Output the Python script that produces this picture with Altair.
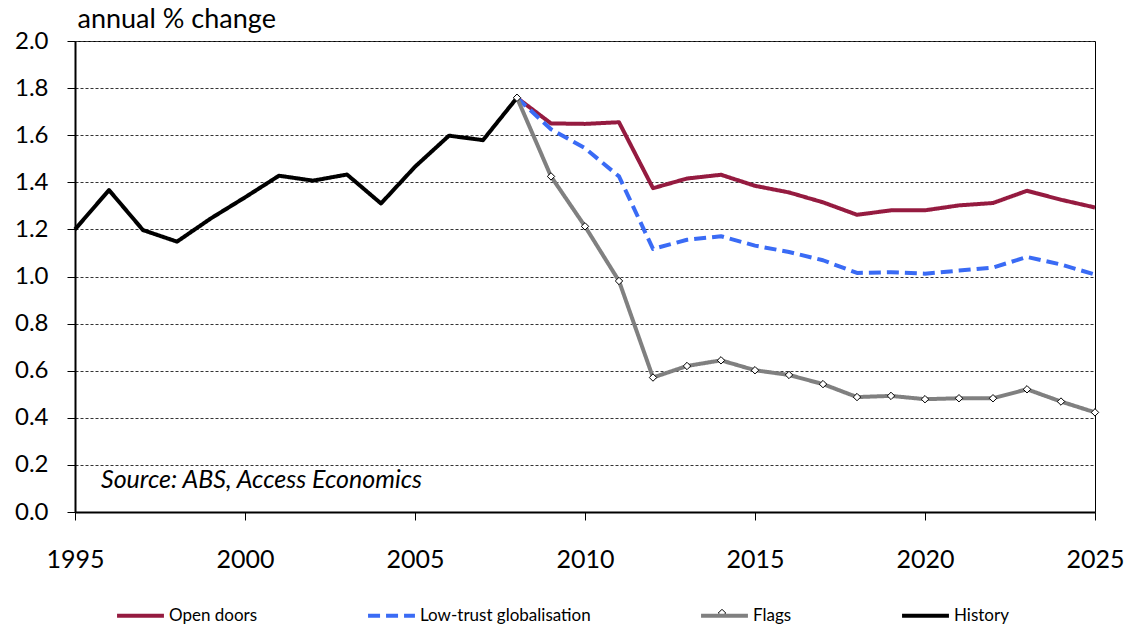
import altair as alt
import pandas as pd

# Annual population growth, % change
history_years = list(range(1995, 2009))
history = [1.20, 1.367, 1.197, 1.148, 1.247, 1.336, 1.428, 1.407, 1.433, 1.310,
           1.466, 1.598, 1.579, 1.759]

scenario_years = list(range(2008, 2026))
open_doors = [1.759, 1.650, 1.648, 1.655, 1.375, 1.416, 1.432, 1.385, 1.357, 1.315,
              1.262, 1.281, 1.281, 1.302, 1.312, 1.364, 1.326, 1.293]
low_trust = [1.759, 1.625, 1.545, 1.425, 1.117, 1.156, 1.171, 1.131, 1.104, 1.069,
             1.015, 1.018, 1.012, 1.025, 1.038, 1.083, 1.051, 1.008]
flags = [1.759, 1.425, 1.213, 0.981, 0.571, 0.620, 0.644, 0.602, 0.582, 0.543,
         0.488, 0.493, 0.479, 0.483, 0.483, 0.521, 0.469, 0.423]

series_names = ["Open doors", "Low-trust globalisation", "Flags", "History"]
series_colors = ["#951B40", "#3A6BF5", "#808080", "#000000"]
series_dash = [[1, 0], [12, 6], [1, 0], [1, 0]]
series_width = [4, 4, 3, 3]

rows = []
for name, yrs, vals in [
    ("History", history_years, history),
    ("Open doors", scenario_years, open_doors),
    ("Low-trust globalisation", scenario_years, low_trust),
    ("Flags", scenario_years, flags),
]:
    for y, v in zip(yrs, vals):
        rows.append({"series": name, "year": y, "value": v})
df = pd.DataFrame(rows)

FONT = "Lato"

x_enc = alt.X(
    "year:Q",
    scale=alt.Scale(domain=[1995, 2025], nice=False, zero=False),
    axis=alt.Axis(
        values=list(range(1995, 2026, 5)), format="d", title=None, grid=False,
        labelFontSize=25, labelPadding=27, tickSize=8, tickColor="black",
        domainColor="black", domainWidth=2, labelColor="black", labelFont=FONT,
        labelFlush=False,
    ),
)
y_enc = alt.Y(
    "value:Q",
    scale=alt.Scale(domain=[0, 2], nice=False),
    axis=alt.Axis(
        values=[round(i * 0.2, 1) for i in range(11)], format=".1f",
        title="annual % change", titleAngle=0, titleAlign="left", titleX=2,
        titleY=-14, titleBaseline="alphabetic", titleFontSize=27,
        titleFontWeight="normal", titleFont=FONT, titleColor="black",
        labelFontSize=24, labelPadding=19, tickSize=8, tickColor="black",
        domainColor="black", domainWidth=2, labelColor="black", labelFont=FONT,
        grid=True, gridDash=[3, 2], gridColor="#333333", gridWidth=1,
    ),
)

legend_cfg = dict(
    title=None, orient="none", direction="horizontal",
    legendX=40, legendY=549, symbolType="stroke", symbolSize=2200,
    symbolStrokeWidth=4, labelFontSize=17, labelFont=FONT,
    labelColor="black", columnPadding=102, labelOffset=3, labelLimit=400,
)

lines = alt.Chart(df).mark_line(strokeCap="butt", strokeJoin="round").encode(
    x=x_enc,
    y=y_enc,
    color=alt.Color(
        "series:N",
        scale=alt.Scale(domain=series_names, range=series_colors),
        legend=alt.Legend(**legend_cfg),
    ),
    strokeDash=alt.StrokeDash(
        "series:N",
        scale=alt.Scale(domain=series_names, range=series_dash),
        legend=alt.Legend(**legend_cfg),
    ),
    strokeWidth=alt.StrokeWidth(
        "series:N",
        scale=alt.Scale(domain=series_names, range=series_width),
        legend=None,
    ),
    order=alt.Order("year:Q"),
)

diamond_style = dict(shape="diamond", filled=True, fill="white", stroke="black",
                     strokeWidth=1, size=55, opacity=1)

diamonds = alt.Chart(df).transform_filter(
    alt.datum.series == "Flags"
).mark_point(**diamond_style).encode(
    x="year:Q",
    y="value:Q",
)

# diamond marker on the Flags legend swatch
legend_diamond = alt.Chart(pd.DataFrame({"k": ["Flags"]})).mark_point(
    **diamond_style
).encode(x=alt.value(647), y=alt.value(572))

source = alt.Chart(pd.DataFrame({"t": ["Source: ABS, Access Economics"]})).mark_text(
    align="left", baseline="alphabetic", fontSize=25, fontStyle="italic",
    font=FONT, color="black",
).encode(text="t:N", x=alt.value(26), y=alt.value(447))

chart = alt.layer(lines, diamonds, source, legend_diamond).properties(
    width=1020, height=471,
    autosize=alt.AutoSizeParams(type="none"),
    padding={"left": 75, "top": 41, "right": 36, "bottom": 115},
    background="white",
).configure_view(stroke="black", strokeWidth=1)

chart.save("out.html", embed_options={"renderer": "svg", "actions": False})
